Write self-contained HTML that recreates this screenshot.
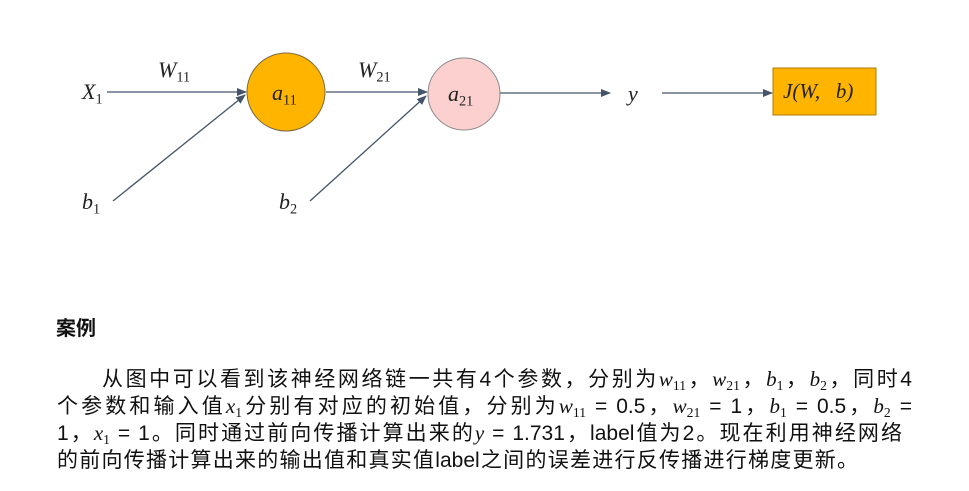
<!DOCTYPE html>
<html><head><meta charset="utf-8"><style>
body{margin:0;background:#fff;width:969px;height:491px;overflow:hidden;position:relative;font-family:"Liberation Sans","Noto Sans CJK SC",sans-serif;color:#111}
.m{font-family:"Liberation Serif",serif;font-style:italic}
.l{position:absolute;left:57px;font-size:21px;white-space:nowrap;line-height:27px;text-align:justify;text-align-last:justify;overflow:visible}
sub{font-size:0.65em;vertical-align:-0.3em;font-style:normal}
.lab{position:absolute;font-family:"Liberation Serif",serif;font-style:italic;font-size:22px;color:#222}
</style></head><body>
<svg width="969" height="300" style="position:absolute;left:0;top:0">
<defs><marker id="a" markerWidth="10" markerHeight="8" refX="9" refY="4" orient="auto" markerUnits="userSpaceOnUse"><path d="M0,0 L10,4 L0,8 z" fill="#44546a"/></marker></defs>
<g stroke="#44546a" stroke-width="1.3" fill="none">
<line x1="107" y1="92" x2="246" y2="92" marker-end="url(#a)"/>
<line x1="113" y1="201" x2="245" y2="95" marker-end="url(#a)"/>
<line x1="326" y1="92" x2="427" y2="92" marker-end="url(#a)"/>
<line x1="310" y1="201" x2="426" y2="96" marker-end="url(#a)"/>
<line x1="500" y1="93" x2="610" y2="93" marker-end="url(#a)"/>
<line x1="662" y1="93" x2="772" y2="93" marker-end="url(#a)"/>
</g>
<circle cx="286" cy="92" r="39" fill="#ffb400" stroke="#7a6a40" stroke-width="1"/>
<circle cx="464" cy="94" r="36" fill="#fcd0cf" stroke="#8a8a8a" stroke-width="1"/>
<rect x="773" y="68" width="103" height="47" fill="#ffb400" stroke="#b07a00" stroke-width="1"/>
</svg>
<div class="lab" style="left:82px;top:79px">X<sub>1</sub></div>
<div class="lab" style="left:158px;top:57px">W<sub>11</sub></div>
<div class="lab" style="left:272px;top:80px">a<sub>11</sub></div>
<div class="lab" style="left:358px;top:57px">W<sub>21</sub></div>
<div class="lab" style="left:448px;top:81px">a<sub>21</sub></div>
<div class="lab" style="left:628px;top:81px">y</div>
<div class="lab" style="left:783px;top:79px;font-size:21px">J(W,&nbsp;&nbsp; b)</div>
<div class="lab" style="left:82px;top:189px">b<sub>1</sub></div>
<div class="lab" style="left:279px;top:189px">b<sub>2</sub></div>
<div style="position:absolute;left:56px;top:312px;font-size:20px;font-weight:bold">案例</div>
<div class="l" style="top:366px;left:102px;width:810px">从图中可以看到该神经网络链一共有4个参数，分别为<span class="m">w<sub>11</sub></span>，<span class="m">w<sub>21</sub></span>，<span class="m">b<sub>1</sub></span>，<span class="m">b<sub>2</sub></span>，同时4</div>
<div class="l" style="top:393px;width:855px">个参数和输入值<span class="m">x<sub>1</sub></span>分别有对应的初始值，分别为<span class="m">w<sub>11</sub></span> = 0.5，<span class="m">w<sub>21</sub></span> = 1，<span class="m">b<sub>1</sub></span> = 0.5，<span class="m">b<sub>2</sub></span> =</div>
<div class="l" style="top:420px;width:845px">1，<span class="m">x<sub>1</sub></span> = 1。同时通过前向传播计算出来的<span class="m">y</span> = 1.731，label值为2。现在利用神经网络</div>
<div class="l" style="top:447px;width:801px">的前向传播计算出来的输出值和真实值label之间的误差进行反传播进行梯度更新。</div>
</body></html>
